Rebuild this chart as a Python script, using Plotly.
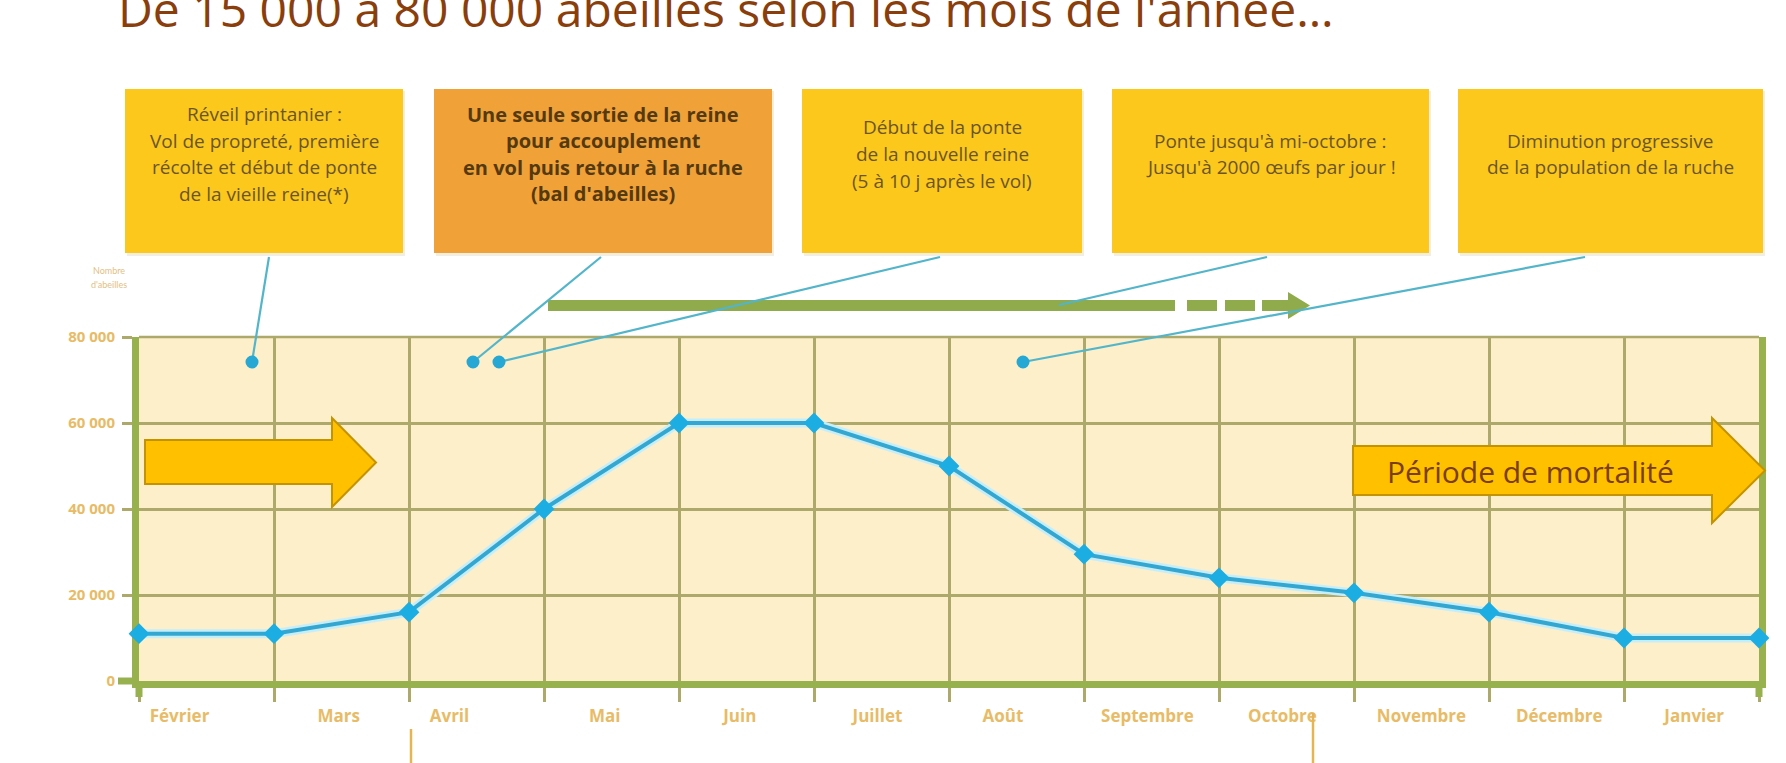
import plotly.graph_objects as go

# ---------------- data ----------------
positions = list(range(13))  # month boundaries (Feb start ... Jan end)
abeilles = [11000, 11000, 16000, 40000, 60000, 60000, 50000,
            29500, 24000, 20500, 16000, 10000, 10000]
mois = ["Février", "Mars", "Avril", "Mai", "Juin", "Juillet", "Août",
        "Septembre", "Octobre", "Novembre", "Décembre", "Janvier"]
mois_pos = [0.3, 1.48, 2.3, 3.45, 4.45, 5.47, 6.4, 7.47, 8.47, 9.5, 10.52, 11.52]
y_tickvals = [0, 20000, 40000, 60000, 80000]
y_ticktext = ["0", "20 000", "40 000", "60 000", "80 000"]

titre = "De 15 000 à 80 000 abeilles selon les mois de l'année…"
boites = [
    ["Réveil printanier :", "Vol de propreté, première",
     "récolte et début de ponte", "de la vieille reine(*)"],
    ["Une seule sortie de la reine", "pour accouplement",
     "en vol puis retour à la ruche", "(bal d'abeilles)"],
    ["Début de la ponte", "de la nouvelle reine", "(5 à 10 j après le vol)"],
    ["Ponte jusqu'à mi-octobre :", "Jusqu'à 2000 œufs par jour !"],
    ["Diminution progressive", "de la population de la ruche"],
]

# ---------------- layout geometry (pixels) ----------------
W, H = 1786, 763
L, R, T, B = 139, 27, 337, 82
PW, PH = W - L - R, H - T - B


def px(x):
    return (x - L) / PW


def py(y):
    return (H - B - y) / PH


GRID = "#aca96b"
GREEN = "#97b14f"
LABEL = "#e8bb66"
TEAL = "#52b5c9"

fig = go.Figure()

# halo + line
fig.add_trace(go.Scatter(x=positions, y=abeilles, mode="lines",
                         line=dict(color="#c6eefa", width=9),
                         hoverinfo="skip", showlegend=False, cliponaxis=False))
fig.add_trace(go.Scatter(x=positions, y=abeilles, mode="lines+markers",
                         line=dict(color="#33a7d0", width=4),
                         marker=dict(symbol="diamond", size=16, color="#1cade3"),
                         showlegend=False, cliponaxis=False))

shapes = []
# top grid line
shapes.append(dict(type="line", xref="paper", yref="paper", x0=0, x1=1, y0=1, y1=1,
                   line=dict(color=GRID, width=2.5), layer="below"))
# thick frame extensions
shapes.append(dict(type="line", xref="paper", yref="paper", x0=px(118), x1=px(139),
                   y0=py(681), y1=py(681), line=dict(color=GREEN, width=7)))
for xx in (139, 1759):
    shapes.append(dict(type="line", xref="paper", yref="paper", x0=px(xx), x1=px(xx),
                       y0=py(681), y1=py(697), line=dict(color=GREEN, width=7)))

# boxes
box_x = [(125, 403), (434, 772), (802, 1082), (1112, 1429), (1458, 1763)]
box_col = ["#fcc81c", "#f0a238", "#fcc81c", "#fcc81c", "#fcc81c"]
for (x0, x1), c in zip(box_x, box_col):
    shapes.append(dict(type="rect", xref="paper", yref="paper",
                       x0=px(x0 + 2), x1=px(x1 + 2), y0=py(91), y1=py(256),
                       fillcolor="#f2eee2", line=dict(width=0), layer="above"))
    shapes.append(dict(type="rect", xref="paper", yref="paper",
                       x0=px(x0), x1=px(x1), y0=py(89), y1=py(253),
                       fillcolor=c, line=dict(width=0), layer="above"))

# leader lines
leaders = [((269, 257), (252, 362)), ((601, 257), (473, 362)),
           ((940, 257), (499, 362)), ((1267, 257), (1059, 305)),
           ((1585, 257), (1023, 362))]
for (a, b) in leaders:
    shapes.append(dict(type="line", xref="paper", yref="paper",
                       x0=px(a[0]), y0=py(a[1]), x1=px(b[0]), y1=py(b[1]),
                       line=dict(color=TEAL, width=2.2), layer="above"))

# green bar with dashes and arrow head
BAR = "#8fab4c"
shapes.append(dict(type="rect", xref="paper", yref="paper", x0=px(548), x1=px(1175),
                   y0=py(300), y1=py(311), fillcolor=BAR, line=dict(width=0), layer="below"))
for d0, d1 in [(1187, 1217), (1225, 1255), (1262, 1290)]:
    shapes.append(dict(type="rect", xref="paper", yref="paper", x0=px(d0), x1=px(d1),
                       y0=py(300), y1=py(311), fillcolor=BAR, line=dict(width=0), layer="below"))
shapes.append(dict(type="path", xref="paper", yref="paper",
                   path=f"M {px(1288)},{py(292)} L {px(1310)},{py(305.5)} L {px(1288)},{py(319)} Z",
                   fillcolor=BAR, line=dict(width=0), layer="below"))

# dots at end of leaders
for cx in (252, 473, 499, 1023):
    shapes.append(dict(type="circle", xref="paper", yref="paper",
                       x0=px(cx - 6.5), x1=px(cx + 6.5), y0=py(362 - 6.5), y1=py(362 + 6.5),
                       fillcolor="#27a7d3", line=dict(width=0), layer="above"))


def arrow(bx0, bx1, by0, by1, hy0, hy1, tip):
    cy = (hy0 + hy1) / 2
    pts = [(bx0, by0), (bx1, by0), (bx1, hy0), (tip, cy), (bx1, hy1), (bx1, by1), (bx0, by1)]
    p = "M " + " L ".join(f"{px(a)},{py(b)}" for a, b in pts) + " Z"
    return dict(type="path", xref="paper", yref="paper", path=p, fillcolor="#ffc000",
                line=dict(color="#c39400", width=2), layer="above")


shapes.append(arrow(145, 332, 440, 484, 418, 507, 376))
shapes.append(arrow(1353, 1712, 446, 495, 418, 523, 1765))

# bottom vertical lines
for xx, ytop in ((411, 729), (1313, 713)):
    shapes.append(dict(type="line", xref="paper", yref="paper", x0=px(xx), x1=px(xx),
                       y0=py(ytop), y1=py(766), line=dict(color="#e6b450", width=2.5)))

annotations = []
# title (cut off at the top, as in the original)
annotations.append(dict(xref="paper", yref="paper", x=px(116), y=py(43), xanchor="left",
                        yanchor="bottom", text=titre, showarrow=False,
                        font=dict(family="Open Sans", size=48, color="#8a3e0c")))
# box texts
centers = [(a + b) / 2 for a, b in box_x]
for i, (lines, cx) in enumerate(zip(boites, centers)):
    n = len(lines)
    for j, t in enumerate(lines):
        yy = 154 + (j - (n - 1) / 2) * 26.5
        annotations.append(dict(xref="paper", yref="paper", x=px(cx), y=py(yy),
                                xanchor="center", yanchor="middle", showarrow=False,
                                text=f"<b>{t}</b>" if i == 1 else t,
                                font=dict(family="Open Sans", size=20 if i == 1 else 19,
                                          color="#553910" if i == 1 else "#6b5526")))
# y-axis title
for t, yy in (("Nombre", 270), ("d'abeilles", 284)):
    annotations.append(dict(xref="paper", yref="paper", x=px(109), y=py(yy),
                            xanchor="center", yanchor="middle", showarrow=False, text=t,
                            font=dict(family="Lato", size=9, color="#e2bf84")))
# arrow label
annotations.append(dict(xref="paper", yref="paper", x=px(1530), y=py(471),
                        xanchor="center", yanchor="middle", showarrow=False,
                        text="Période de mortalité",
                        font=dict(family="Open Sans", size=30, color="#7a3e06")))

fig.update_layout(
    width=W, height=H,
    margin=dict(l=L, r=R, t=T, b=B, autoexpand=False),
    paper_bgcolor="white", plot_bgcolor="#fcefca",
    shapes=shapes, annotations=annotations, showlegend=False,
    xaxis=dict(range=[0, 12], tickvals=mois_pos, ticktext=mois, ticks="",
               showgrid=False, zeroline=False, fixedrange=True,
               showline=True, linecolor=GREEN, linewidth=7, layer="below traces",
               tickfont=dict(family="Open Sans", size=17, color=LABEL, weight="bold"),
               ticklabelstandoff=14,
               minor=dict(tickvals=positions, ticks="outside", ticklen=14, tickwidth=2.5,
                          tickcolor=GRID, showgrid=True, gridcolor=GRID, gridwidth=2.5)),
    yaxis=dict(range=[0, 80000], tickvals=y_tickvals, ticktext=y_ticktext,
               ticks="outside", ticklen=10, tickwidth=2.5, tickcolor=GRID,
               showgrid=True, gridcolor=GRID, gridwidth=2.5, zeroline=False,
               showline=True, mirror=True, linecolor=GREEN, linewidth=7,
               layer="below traces", fixedrange=True, ticklabelstandoff=4,
               tickfont=dict(family="Open Sans", size=15, color=LABEL, weight="bold")),
)

fig.write_html("out.html", config={"displayModeBar": False},
               post_script="document.body.style.margin='0';")
